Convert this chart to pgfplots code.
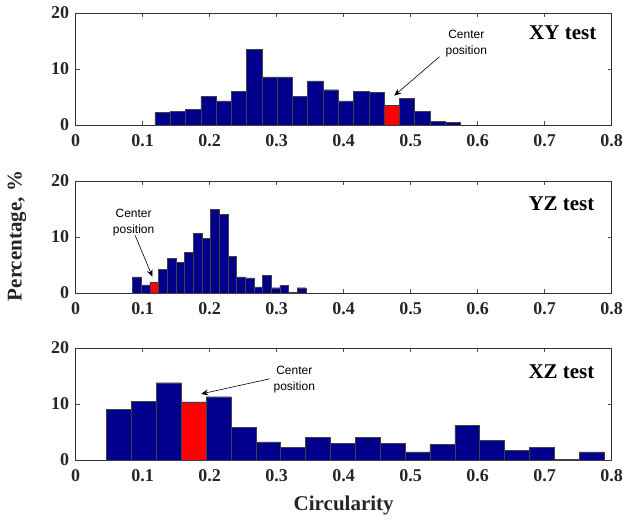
\documentclass[border=0pt]{standalone}
\usepackage{fontspec}
\setmainfont{Liberation Serif}
\setsansfont{Liberation Sans}
\usepackage{pgfplots}
\pgfplotsset{compat=1.18}
\usetikzlibrary{arrows.meta}

\definecolor{histblue}{RGB}{0,0,140}
\definecolor{histred}{RGB}{255,0,0}

\pgfplotsset{
  panel/.style={
    scale only axis,
    width=536pt, height=112pt,
    xmin=0, xmax=0.8, ymin=0, ymax=20,
    xtick={0,0.1,0.2,0.3,0.4,0.5,0.6,0.7,0.8},
    xticklabels={0,0.1,0.2,0.3,0.4,0.5,0.6,0.7,0.8},
    ytick={0,10,20},
    tick align=inside,
    major tick length=4pt,
    axis line style={black!80, line width=0.6pt},
    tick style={black!70, line width=0.5pt},
    tick label style={font=\fontsize{18}{18}\selectfont\bfseries, text=black!85},
    xticklabel style={yshift=-6pt},
    yticklabel style={xshift=-3pt},
    /pgf/number format/assume math mode=true,
  },
  bars/.style={ybar interval, fill=histblue, draw=black!75, line width=0.4pt},
  redbar/.style={ybar interval, fill=histred, draw=black!75, line width=0.4pt},
}
\tikzset{
  ttl/.style={anchor=east, inner sep=0pt, font=\fontsize{21}{21}\selectfont\bfseries},
  note/.style={align=center, inner sep=0pt, font=\fontsize{12}{16}\selectfont\sffamily},
  arr/.style={-{Stealth[length=7pt,width=6pt]}, line width=0.6pt},
}

\begin{document}
\begin{tikzpicture}
\useasboundingbox (0,0) rectangle (626pt,-519pt);

% XY test
\begin{axis}[panel, at={(75.7pt,-125pt)}, anchor=south west]
  \addplot[bars] coordinates {
    (0.1183,2.2) (0.1411,2.5) (0.1639,2.8) (0.1867,5.06) (0.2095,4.3)
    (0.2323,6.07) (0.2551,13.5) (0.2778,8.6) (0.3006,8.6) (0.3234,5.06)
    (0.3462,7.86) (0.3690,6.3) (0.3918,4.3) (0.4146,6.07) (0.4374,5.77)
    (0.4602,3.45) (0.4830,4.76) (0.5057,2.44) (0.5285,0.65) (0.5513,0.42)
    (0.5741,0)};
  \addplot[redbar] coordinates {(0.4602,3.45) (0.4830,0)};
  \node[ttl] at (axis cs:0.7773,16.4) {XY test};
  \node[note] at (axis cs:0.583,14.5) {Center\\position};
  \draw[arr] (axis cs:0.543,12.2) -- (axis cs:0.4755,5.24);
\end{axis}

% YZ test
\begin{axis}[panel, at={(75.7pt,-293pt)}, anchor=south west]
  \addplot[bars] coordinates {
    (0.0849,2.9) (0.0978,1.46) (0.1108,1.93) (0.1237,4.2) (0.1366,6.2)
    (0.1496,5.44) (0.1625,7.25) (0.1754,10.7) (0.1883,9.7) (0.2013,15.0)
    (0.2142,14.0) (0.2271,6.6) (0.2401,2.9) (0.2530,2.7) (0.2659,1.1)
    (0.2789,3.2) (0.2918,0.94) (0.3047,1.4) (0.3176,0.1) (0.3306,0.94)
    (0.3435,0)};
  \addplot[redbar] coordinates {(0.1108,1.93) (0.1237,0)};
  \node[ttl] at (axis cs:0.7745,16.0) {YZ test};
  \node[note] at (axis cs:0.0865,12.6) {Center\\position};
  \draw[arr] (axis cs:0.0887,10.3) -- (axis cs:0.1145,2.92);
\end{axis}

% XZ test
\begin{axis}[panel, at={(75.7pt,-460pt)}, anchor=south west]
  \addplot[bars] coordinates {
    (0.0461,9.0) (0.0832,10.5) (0.1203,13.8) (0.1575,10.4) (0.1946,11.3)
    (0.2317,5.8) (0.2688,3.24) (0.3059,2.2) (0.3431,4.0) (0.3802,2.95)
    (0.4173,4.0) (0.4544,2.95) (0.4915,1.45) (0.5287,2.77) (0.5658,6.24)
    (0.6029,3.47) (0.6400,1.73) (0.6771,2.2) (0.7143,0.17) (0.7514,1.45)
    (0.7885,0)};
  \addplot[redbar] coordinates {(0.1575,10.4) (0.1946,0)};
  \node[ttl] at (axis cs:0.7745,15.7) {XZ test};
  \node[note] at (axis cs:0.3263,14.3) {Center\\position};
  \draw[arr] (axis cs:0.2896,14.5) -- (axis cs:0.1873,11.8);
\end{axis}

\node[rotate=90, font=\fontsize{21}{21}\selectfont\bfseries, text=black!85] at (17pt,-236pt) {Percentage, \%};
\node[font=\fontsize{21}{21}\selectfont\bfseries, text=black!85] at (343.7pt,-505pt) {Circularity};
\end{tikzpicture}
\end{document}
